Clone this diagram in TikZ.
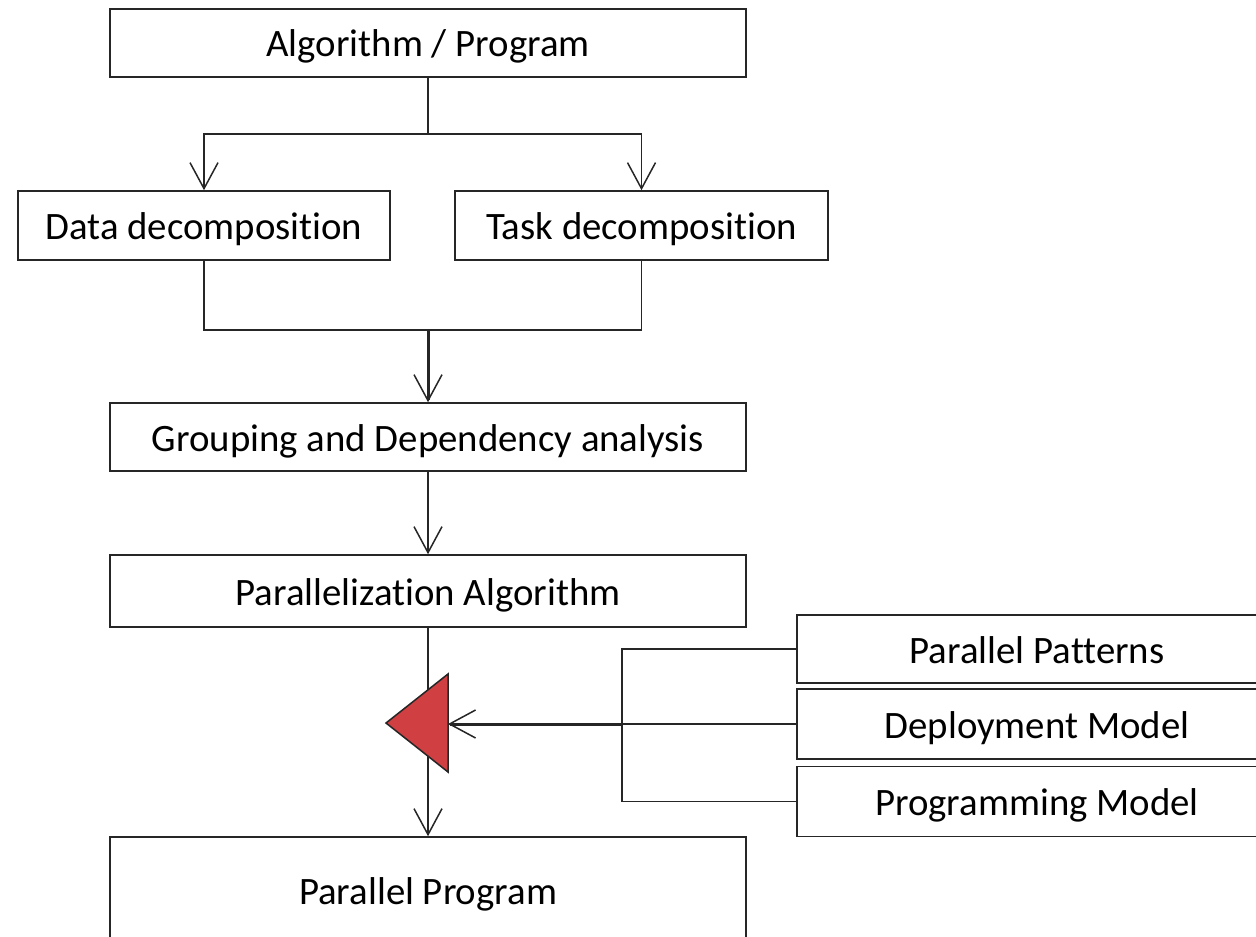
\documentclass[tikz,border=0pt]{standalone}
\usepackage{fontspec}
\setmainfont{Carlito}[Ligatures=NoCommon]
\usetikzlibrary{arrows.meta}
\definecolor{gatered}{RGB}{208,64,66}
\tikzset{
  step box/.style={
    draw=black!85,
    line width=0.8pt,
    fill=white,
    align=center,
    inner sep=0pt,
    text height=15pt,
    text depth=1pt,
    font=\fontsize{19.4}{23}\selectfont,
  },
  flow/.style={
    draw=black!85,
    line width=0.75pt,
    -{Straight Barb[length=13pt,width=14pt,line width=0.75pt]},
  },
  strong flow/.style={
    flow,
    line width=1.5pt,
  },
}

\begin{document}
\begin{tikzpicture}[x=0.5pt, y=-0.5pt]
      \clip (0,0) rectangle (1256,936);

      \node[step box, minimum width=318pt, minimum height=34pt] (alg)   at (428,43)    {Algorithm / Program};
      \node[step box, minimum width=186pt, minimum height=34.5pt] (data) at (204,225.5) {Data decomposition};
      \node[step box, minimum width=186.5pt, minimum height=34.5pt] (task) at (641.5,225.5) {Task decomposition};
      \node[step box, minimum width=318pt, minimum height=34pt] (group) at (428,437)   {Grouping and Dependency analysis};
      \node[step box, minimum width=318pt, minimum height=36pt] (para)  at (428,591)   {Parallelization Algorithm};
      \node[step box, minimum width=318pt, minimum height=53pt] (prog)  at (428,890)   {Parallel Program};

      \node[step box, minimum width=240pt, minimum height=34pt] (pat) at (1037,649)   {Parallel Patterns};
      \node[step box, minimum width=240pt, minimum height=35pt] (dep) at (1037,724)   {Deployment Model};
      \node[step box, minimum width=240pt, minimum height=35pt] (pm)  at (1037,801.5) {Programming Model};

      \coordinate (split) at (428,134);
      \coordinate (merge) at (428,330);
      \coordinate (bus)   at (622,724);
      \coordinate (gate)  at (448,724);

      \draw[draw=black!85, line width=0.75pt] (alg.south) -- (split);
      \draw[flow] (split) -| (data.north);
      \draw[flow] (split) -| (task.north);

      \draw[draw=black!85, line width=0.75pt] (data.south) |- (merge) -| (task.south);
      \draw[strong flow] (merge) -- (group.north);

      \draw[flow] (group) -- (para);
      \draw[flow] (para) -- (prog);

      % red gate on the main line
      \draw[fill=gatered, draw=black!85, line width=0.75pt] (386,723) -- (gate |- 0,674) -- (gate |- 0,772) -- cycle;

      \draw[draw=black!85, line width=0.75pt] (pat.west) -- (pat.west -| bus) -- (pm.west -| bus) -- (pm.west);
      \draw[draw=black!85, line width=0.75pt] (dep.west) -- (bus);
      \draw[strong flow] (bus) -- (gate);
\end{tikzpicture}
\end{document}
